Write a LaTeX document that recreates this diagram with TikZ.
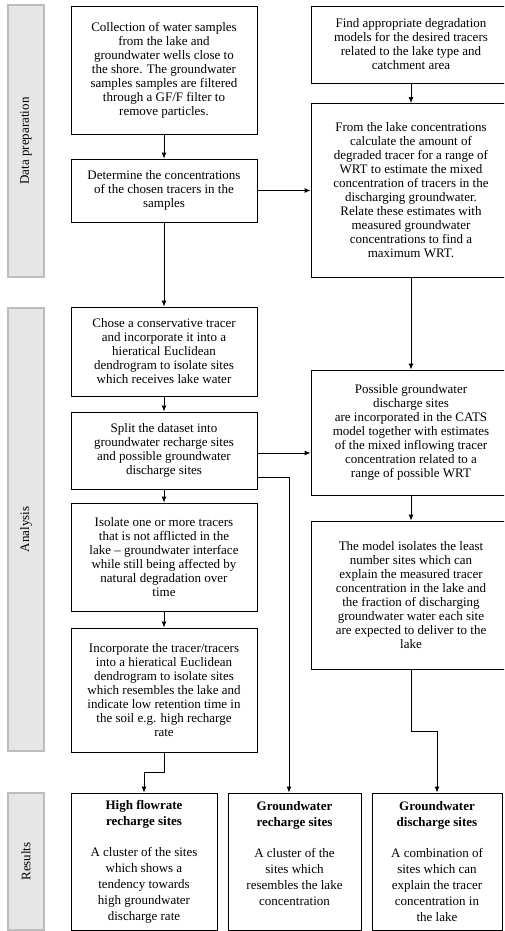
\documentclass[tikz,border=0pt]{standalone}
\usepackage{fontspec}
\setmainfont{Liberation Serif}
\usetikzlibrary{positioning}
\usetikzlibrary{calc}
\usetikzlibrary{arrows.meta}

\definecolor{barfill}{HTML}{E6E6E6}
\definecolor{barline}{HTML}{BDBDBD}

\begin{document}
\begin{tikzpicture}[x=1pt, y=-1pt,
    stepbox/.style={draw, line width=0.9pt, align=center, inner sep=0pt, font=\fontsize{13}{14}\selectfont},
    resultbox/.style={stepbox, font=\fontsize{13}{16}\selectfont, minimum height=137pt},
    phase/.style={draw=barline, fill=barfill, line width=1.3pt, minimum height=36pt, inner sep=0pt, rotate=90, font=\fontsize{13}{14}\selectfont},
    flow/.style={-{Latex[length=6pt, width=5pt]}, line width=0.9pt}]

      \clip (0,0) rectangle (504,931);

      \def\lx{164} % centre of the left column
      \def\rx{411} % centre of the right column

      % phases
      \node[phase, minimum width=272pt] (prep) at (26, 141) {Data preparation};
      \node[phase, minimum width=443pt] (analysis) at (26, 529.5) {Analysis};
      \node[phase, minimum width=137pt] (results) at (26, 861.5) {Results};

      % left column
      \node[stepbox, minimum width=186pt, minimum height=128pt] (collect) at (\lx, 70) {Collection of water samples\\from the lake and\\groundwater wells close to\\the shore. The groundwater\\samples samples are filtered\\through a GF/F filter to\\remove particles.};
      \node[stepbox, minimum width=186pt, minimum height=63pt] (determine) at (\lx, 190.5) {Determine the concentrations\\of the chosen tracers in the\\samples};
      \node[stepbox, minimum width=186pt, minimum height=89pt] (chose) at (\lx, 351.5) {Chose a conservative tracer\\and incorporate it into a\\hieratical Euclidean\\dendrogram to isolate sites\\which receives lake water};
      \node[stepbox, minimum width=186pt, minimum height=77pt] (split) at (\lx, 450.5) {Split the dataset into\\groundwater recharge sites\\and possible groundwater\\discharge sites};
      \node[stepbox, minimum width=186pt, minimum height=108pt] (isolate) at (\lx, 557) {Isolate one or more tracers\\that is not afflicted in the\\lake -- groundwater interface\\while still being affected by\\natural degradation over\\time};
      \node[stepbox, minimum width=186pt, minimum height=124pt] (incorporate) at (\lx, 690) {Incorporate the tracer/tracers\\into a hieratical Euclidean\\dendrogram to isolate sites\\which resembles the lake and\\indicate low retention time in\\the soil e.g. high recharge\\rate};

      % right column
      \node[stepbox, minimum width=200pt, minimum height=77pt] (find) at (\rx, 44.5) {Find appropriate degradation\\models for the desired tracers\\related to the lake type and\\catchment area};
      \node[stepbox, minimum width=200pt, minimum height=174pt] (fromlake) at (\rx, 190.5) {From the lake concentrations\\calculate the amount of\\degraded tracer for a range of\\WRT to estimate the mixed\\concentration of tracers in the\\discharging groundwater.\\Relate these estimates with\\measured groundwater\\concentrations to find a\\maximum WRT.};
      \node[stepbox, minimum width=200pt, minimum height=125pt] (possible) at (\rx, 432.5) {Possible groundwater\\discharge sites\\are incorporated in the CATS\\model together with estimates\\of the mixed inflowing tracer\\concentration related to a\\range of possible WRT};
      \node[stepbox, minimum width=200pt, minimum height=148pt] (model) at (\rx, 595) {The model isolates the least\\number sites which can\\explain the measured tracer\\concentration in the lake and\\the fraction of discharging\\groundwater water each site\\are expected to deliver to the\\lake};

      % results
      \node[resultbox, minimum width=146pt] (highflow) at (144, 861.5) {\textbf{High flowrate}\\\textbf{recharge sites}\\[15pt]A cluster of the sites\\which shows a\\tendency towards\\high groundwater\\discharge rate};
      \node[resultbox, minimum width=133pt] (gwrecharge) at (294.5, 861.5) {\textbf{Groundwater}\\\textbf{recharge sites}\\[15pt]A cluster of the\\sites which\\resembles the lake\\concentration\\~};
      \node[resultbox, minimum width=130pt] (gwdischarge) at (437, 861.5) {\textbf{Groundwater}\\\textbf{discharge sites}\\[15pt]A combination of\\sites which can\\explain the tracer\\concentration in\\the lake};

      % connectors
      \draw[flow] (collect) -- (determine);
      \draw[flow] (determine) -- (chose);
      \draw[flow] (determine.east) -- (determine.east -| fromlake.west);
      \draw[flow] (find) -- (fromlake);
      \draw[flow] (fromlake) -- (possible);
      \draw[flow] (chose) -- (split);
      \draw[flow] (split) -- (isolate);
      \draw[flow] (isolate) -- (incorporate);
      \draw[flow] ([yshift=-2.5pt]split.east) -- ([yshift=-2.5pt]split.east -| possible.west);
      \draw[flow] ([yshift=-26.5pt]split.east) -| ([xshift=-5.5pt]gwrecharge.north);
      \draw[flow] (possible) -- (model);
      \draw[flow] (incorporate.south) -- ++(0, 19.5) -| (highflow.north);
      \draw[flow] (model.south) -- ++(0, 62) -| (gwdischarge.north);
    \end{tikzpicture}
\end{document}
